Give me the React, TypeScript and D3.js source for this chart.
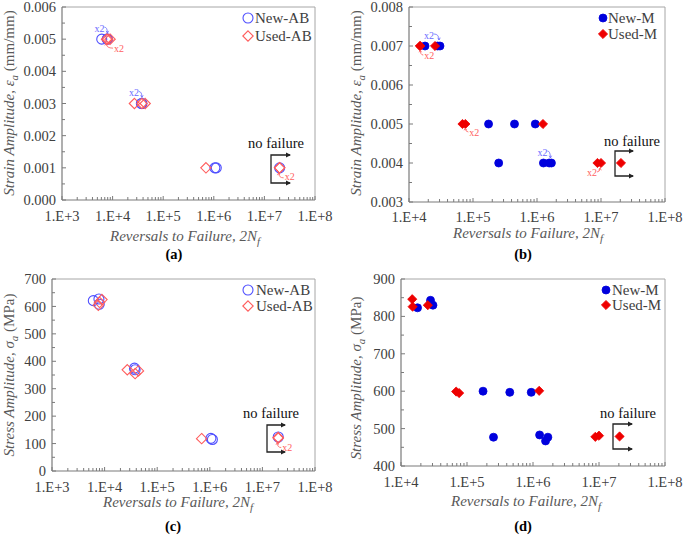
import React from "react";
import * as d3 from "d3";

// ---------- data ----------
const newABCycles = [6.1e3, 7.8e3, 7.9e3, 3.7e4, 3.8e4, 1.05e6, 1.12e6, 2.0e7];
const newABStrain = [0.005, 0.005, 0.005, 0.003, 0.003, 0.001, 0.001, 0.001];
const newABStress = [621, 627, 608, 375, 369, 119, 115, 124];

const usedABCycles = [7.6e3, 8.0e3, 8.9e3, 2.7e4, 3.8e4, 4.4e4, 7.0e5, 2.0e7, 2.0e7];
const usedABStrain = [0.005, 0.005, 0.005, 0.003, 0.003, 0.003, 0.001, 0.001, 0.001];
const usedABStress = [604, 615, 625, 369, 355, 365, 118, 122, 120];

const newMCycles = [1.78e4, 2.8e4, 3.05e4, 1.75e5, 4.45e5, 9.4e5, 2.52e5, 1.26e6, 1.55e6, 1.68e6];
const newMStrain = [0.007, 0.007, 0.007, 0.005, 0.005, 0.005, 0.004, 0.004, 0.004, 0.004];
const newMStress = [823, 843, 830, 600, 597, 597, 477, 483, 467, 477];

const usedMCycles = [1.48e4, 1.5e4, 2.55e4, 6.85e4, 7.6e4, 1.24e6, 8.8e6, 1.0e7, 2.05e7];
const usedMStrain = [0.007, 0.007, 0.007, 0.005, 0.005, 0.005, 0.004, 0.004, 0.004];
const usedMStress = [846, 826, 830, 599, 595, 601, 478, 481, 479];

const legendAB = ["New-AB", "Used-AB"];
const legendM = ["New-M", "Used-M"];
const panelLetters = ["(a)", "(b)", "(c)", "(d)"];
const noFailureText = "no failure";
const xTitleMain = "Reversals to Failure, 2N";
const xTitleSub = "f";

// ---------- styles ----------
const FONT = '"Liberation Serif"';
const AXIS_COLOR = "#7a7a7a";
const FRAME_COLOR = "#a6a6a6";
const TICK_TEXT = "#404040";
const TITLE_TEXT = "#595959";
const BLUE_OPEN = "#4f4fff";
const RED_OPEN = "#ff5c5c";
const BLUE_FILL = "#0000dd";
const RED_FILL = "#ee0000";
const BLUE_NOTE = "#6a6aff";
const RED_NOTE = "#ff6060";

type Series = { x: number[]; y: number[]; kind: "circle" | "diamond"; filled: boolean; color: string; label: string };
type Note = { px: number; py: number; lx: number; ly: number; sx: number; sy: number; tx: number; ty: number; cx: number; cy: number; color: string };

type PanelCfg = {
  left: number; right: number; top: number; bottom: number;
  xDomain: [number, number]; yDomain: [number, number];
  yStep: number; yDecimals: number;
  yTitle: { main: string; sym: string; sub: string; unit: string; x: number; y: number };
  xTitleY: number; xTitleX: number; xLabelOff: number;
  letter: string; letterX: number; letterY: number;
  series: Series[];
  legend: { mx: number; y0: number; y1: number; tx: number };
  noFail: { textX: number; textY: number; vx: number; y0: number; y1: number; x1: number };
  notes: Note[];
};

const T = (size: number, extra: React.CSSProperties = {}): React.CSSProperties => ({
  fontFamily: FONT,
  fontSize: size,
  ...extra,
});

function Marker({ x, y, s }: { x: number; y: number; s: Series }) {
  if (s.kind === "circle") {
    const r = s.filled ? 4 : 5;
    return (
      <circle cx={x} cy={y} r={r} fill={s.filled ? s.color : "none"} stroke={s.color} strokeWidth={s.filled ? 0.8 : 1.1} />
    );
  }
  const h = s.filled ? 4.6 : 5.2;
  const d = `M${x},${y - h}L${x + h},${y}L${x},${y + h}L${x - h},${y}Z`;
  return <path d={d} fill={s.filled ? s.color : "none"} stroke={s.color} strokeWidth={s.filled ? 0.8 : 1.1} />;
}

function Panel({ cfg }: { cfg: PanelCfg }) {
  const x = d3.scaleLog().domain(cfg.xDomain).range([cfg.left, cfg.right]);
  const y = d3.scaleLinear().domain(cfg.yDomain).range([cfg.bottom, cfg.top]);
  const [e0, e1] = [Math.round(Math.log10(cfg.xDomain[0])), Math.round(Math.log10(cfg.xDomain[1]))];
  const decades = d3.range(e0, e1 + 1);
  const minor: number[] = [];
  decades.slice(0, -1).forEach((e) => {
    for (let k = 2; k <= 9; k++) minor.push(k * Math.pow(10, e));
  });
  const nY = Math.round((cfg.yDomain[1] - cfg.yDomain[0]) / cfg.yStep);
  const yMajor = d3.range(0, nY + 1).map((i) => cfg.yDomain[0] + i * cfg.yStep);
  const yMinor = d3.range(0, nY).map((i) => cfg.yDomain[0] + (i + 0.5) * cfg.yStep);
  const fmt = d3.format(`.${cfg.yDecimals}f`);
  const nf = cfg.noFail;
  return (
    <g>
      <line x1={cfg.left} x2={cfg.right} y1={cfg.top} y2={cfg.top} stroke={FRAME_COLOR} strokeWidth={1} />
      <line x1={cfg.right} x2={cfg.right} y1={cfg.top} y2={cfg.bottom} stroke={FRAME_COLOR} strokeWidth={1} />
      <line x1={cfg.left} x2={cfg.right} y1={cfg.bottom} y2={cfg.bottom} stroke={AXIS_COLOR} strokeWidth={1.2} />
      <line x1={cfg.left} x2={cfg.left} y1={cfg.top} y2={cfg.bottom} stroke={AXIS_COLOR} strokeWidth={1.2} />
      {minor.map((v, i) => (
        <line key={"xm" + i} x1={x(v)} x2={x(v)} y1={cfg.bottom} y2={cfg.bottom - 3} stroke={AXIS_COLOR} strokeWidth={1} />
      ))}
      {decades.map((e) => (
        <g key={"xd" + e}>
          <line x1={x(Math.pow(10, e))} x2={x(Math.pow(10, e))} y1={cfg.bottom} y2={cfg.bottom - 4} stroke={AXIS_COLOR} strokeWidth={1} />
          <text x={x(Math.pow(10, e))} y={cfg.bottom + cfg.xLabelOff} textAnchor="middle" style={T(14.5)} fill={TICK_TEXT}>
            {`1.E+${e}`}
          </text>
        </g>
      ))}
      {yMinor.map((v, i) => (
        <line key={"ym" + i} x1={cfg.left} x2={cfg.left + 3} y1={y(v)} y2={y(v)} stroke={AXIS_COLOR} strokeWidth={1} />
      ))}
      {yMajor.map((v, i) => (
        <g key={"yM" + i}>
          <line x1={cfg.left} x2={cfg.left + 4} y1={y(v)} y2={y(v)} stroke={AXIS_COLOR} strokeWidth={1} />
          <text x={cfg.left - 6} y={y(v)} dy="0.35em" textAnchor="end" style={T(14.5)} fill={TICK_TEXT}>
            {fmt(v)}
          </text>
        </g>
      ))}
      <text x={cfg.xTitleX} y={cfg.xTitleY} textAnchor="middle" style={T(15, { fontStyle: "italic" })} fill={TITLE_TEXT}>
        {xTitleMain}
        <tspan style={{ fontSize: 11 }} dy={4}>{xTitleSub}</tspan>
      </text>
      <text
        transform={`translate(${cfg.yTitle.x},${cfg.yTitle.y}) rotate(-90)`}
        textAnchor="middle"
        style={T(15)}
        fill={TITLE_TEXT}
      >
        <tspan style={{ fontStyle: "italic" }}>{cfg.yTitle.main}</tspan>
        <tspan style={{ fontStyle: "italic" }}>{cfg.yTitle.sym}</tspan>
        <tspan style={{ fontStyle: "italic", fontSize: 11 }} dy={4}>{cfg.yTitle.sub}</tspan>
        <tspan dy={-4}>{cfg.yTitle.unit}</tspan>
      </text>
      <text x={cfg.letterX} y={cfg.letterY} textAnchor="middle" style={T(14.5, { fontWeight: "bold" })} fill="#000">
        {cfg.letter}
      </text>
      <text x={nf.textX} y={nf.textY} textAnchor="middle" style={T(14.5)} fill="#111">
        {noFailureText}
      </text>
      <path d={`M${nf.x1},${nf.y0}H${nf.vx}V${nf.y1}H${nf.x1}`} fill="none" stroke="#222" strokeWidth={1.3} />
      <path d={`M${nf.x1 + 1},${nf.y0}l-5,-2.5v5z`} fill="#222" />
      <path d={`M${nf.x1 + 1},${nf.y1}l-5,-2.5v5z`} fill="#222" />
      {cfg.series.map((s, si) => (
        <g key={"s" + si}>
          {s.x.map((xv, i) => (
            <Marker key={i} x={x(xv)} y={y(s.y[i])} s={s} />
          ))}
        </g>
      ))}
      {cfg.notes.map((n, i) => {
        const px = x(n.px), py = y(n.py);
        const sx = px + n.sx, sy = py + n.sy, tx = px + n.tx, ty = py + n.ty;
        const cx = px + n.cx, cy = py + n.cy;
        const ang = Math.atan2(ty - cy, tx - cx);
        const a1 = ang + Math.PI - 0.5, a2 = ang + Math.PI + 0.5;
        const hl = 2.6;
        return (
          <g key={"n" + i}>
            <path d={`M${sx},${sy}Q${cx},${cy} ${tx},${ty}`} fill="none" stroke={n.color} strokeWidth={0.8} />
            <path
              d={`M${tx},${ty}L${tx + hl * Math.cos(a1)},${ty + hl * Math.sin(a1)}M${tx},${ty}L${tx + hl * Math.cos(a2)},${ty + hl * Math.sin(a2)}`}
              fill="none"
              stroke={n.color}
              strokeWidth={0.8}
            />
            <text x={px + n.lx} y={py + n.ly} dy="0.35em" textAnchor="middle" style={T(10)} fill={n.color}>
              x2
            </text>
          </g>
        );
      })}
      {cfg.series.map((s, si) => {
        const ly = si === 0 ? cfg.legend.y0 : cfg.legend.y1;
        return (
          <g key={"l" + si}>
            <Marker x={cfg.legend.mx} y={ly} s={s} />
            <text x={cfg.legend.tx} y={ly} dy="0.35em" style={T(15)} fill={TICK_TEXT}>
              {s.label}
            </text>
          </g>
        );
      })}
    </g>
  );
}

const sAB = (yNew: number[], yUsed: number[]): Series[] => [
  { x: newABCycles, y: yNew, kind: "circle", filled: false, color: BLUE_OPEN, label: legendAB[0] },
  { x: usedABCycles, y: yUsed, kind: "diamond", filled: false, color: RED_OPEN, label: legendAB[1] },
];
const sM = (yNew: number[], yUsed: number[]): Series[] => [
  { x: newMCycles, y: yNew, kind: "circle", filled: true, color: BLUE_FILL, label: legendM[0] },
  { x: usedMCycles, y: yUsed, kind: "diamond", filled: true, color: RED_FILL, label: legendM[1] },
];

const panels: PanelCfg[] = [
  {
    left: 62, right: 315, top: 7, bottom: 200,
    xDomain: [1e3, 1e8], yDomain: [0, 0.006], yStep: 0.001, yDecimals: 3,
    yTitle: { main: "Strain Amplitude, ", sym: "ε", sub: "a", unit: " (mm/mm)", x: 14, y: 103 },
    xTitleX: 185, xTitleY: 241, xLabelOff: 21,
    letter: panelLetters[0], letterX: 174, letterY: 259,
    series: sAB(newABStrain, usedABStrain),
    legend: { mx: 248, y0: 18, y1: 36, tx: 255 },
    noFail: { textX: 276, textY: 148, vx: 271, y0: 155, y1: 183, x1: 290 },
    notes: [
      { px: 7.9e3, py: 0.005, lx: -8, ly: -11, sx: -3, sy: -12, cx: 0, cy: -12, tx: 0, ty: -6, color: BLUE_NOTE },
      { px: 8.9e3, py: 0.005, lx: 9, ly: 9, sx: 3, sy: 9, cx: -4, cy: 9, tx: -4, ty: 4, color: RED_NOTE },
      { px: 3.8e4, py: 0.003, lx: -8, ly: -11, sx: -3, sy: -12, cx: 0, cy: -12, tx: 0, ty: -6, color: BLUE_NOTE },
      { px: 2.0e7, py: 0.001, lx: 10, ly: 9, sx: 4, sy: 10, cx: -1, cy: 10, tx: -1, ty: 5, color: RED_NOTE },
    ],
  },
  {
    left: 409, right: 665, top: 7, bottom: 202,
    xDomain: [1e4, 1e8], yDomain: [0.003, 0.008], yStep: 0.001, yDecimals: 3,
    yTitle: { main: "Strain Amplitude, ", sym: "ε", sub: "a", unit: " (mm/mm)", x: 361, y: 103 },
    xTitleX: 528, xTitleY: 238, xLabelOff: 20,
    letter: panelLetters[1], letterX: 523, letterY: 259,
    series: sM(newMStrain, usedMStrain),
    legend: { mx: 603, y0: 18, y1: 34, tx: 608 },
    noFail: { textX: 632, textY: 146, vx: 615, y0: 151, y1: 176, x1: 633 },
    notes: [
      { px: 3.05e4, py: 0.007, lx: -11, ly: -11, sx: -6, sy: -12, cx: -1, cy: -12, tx: -1, ty: -6, color: BLUE_NOTE },
      { px: 1.5e4, py: 0.007, lx: 9, ly: 9, sx: 3, sy: 9, cx: 0, cy: 9, tx: 0, ty: 4, color: RED_NOTE },
      { px: 7.6e4, py: 0.005, lx: 9, ly: 8, sx: 3, sy: 8, cx: 0, cy: 8, tx: 0, ty: 4, color: RED_NOTE },
      { px: 1.68e6, py: 0.004, lx: -9, ly: -11, sx: -4, sy: -12, cx: -1, cy: -12, tx: -1, ty: -5, color: BLUE_NOTE },
      { px: 1.0e7, py: 0.004, lx: -9, ly: 9, sx: -4, sy: 9, cx: -1, cy: 9, tx: -1, ty: 5, color: RED_NOTE },
    ],
  },
  {
    left: 52, right: 315, top: 279, bottom: 471,
    xDomain: [1e3, 1e8], yDomain: [0, 700], yStep: 100, yDecimals: 0,
    yTitle: { main: "Stress Amplitude, ", sym: "σ", sub: "a", unit: " (MPa)", x: 14, y: 375 },
    xTitleX: 178, xTitleY: 507, xLabelOff: 21,
    letter: panelLetters[2], letterX: 173, letterY: 531,
    series: sAB(newABStress, usedABStress),
    legend: { mx: 248, y0: 290, y1: 306, tx: 256 },
    noFail: { textX: 271, textY: 418, vx: 267, y0: 425, y1: 452, x1: 285 },
    notes: [
      { px: 2.0e7, py: 122, lx: 9, ly: 10, sx: 3, sy: 10, cx: -1, cy: 10, tx: -1, ty: 5, color: RED_NOTE },
    ],
  },
  {
    left: 401, right: 665, top: 279, bottom: 466,
    xDomain: [1e4, 1e8], yDomain: [400, 900], yStep: 100, yDecimals: 0,
    yTitle: { main: "Stress Amplitude, ", sym: "σ", sub: "a", unit: " (MPa)", x: 361, y: 378 },
    xTitleX: 526, xTitleY: 506, xLabelOff: 21,
    letter: panelLetters[3], letterX: 523, letterY: 531,
    series: sM(newMStress, usedMStress),
    legend: { mx: 606, y0: 290, y1: 305, tx: 612 },
    noFail: { textX: 628, textY: 418, vx: 613, y0: 424, y1: 449, x1: 632 },
    notes: [],
  },
];

export default function App() {
  return (
    <svg
      width={685}
      height={536}
      viewBox="0 0 685 536"
      style={{ position: "absolute", left: 0, top: 0, background: "#fff" }}
    >
      <rect x={0} y={0} width={685} height={536} fill="#fff" />
      {panels.map((p, i) => (
        <Panel key={i} cfg={p} />
      ))}
    </svg>
  );
}
